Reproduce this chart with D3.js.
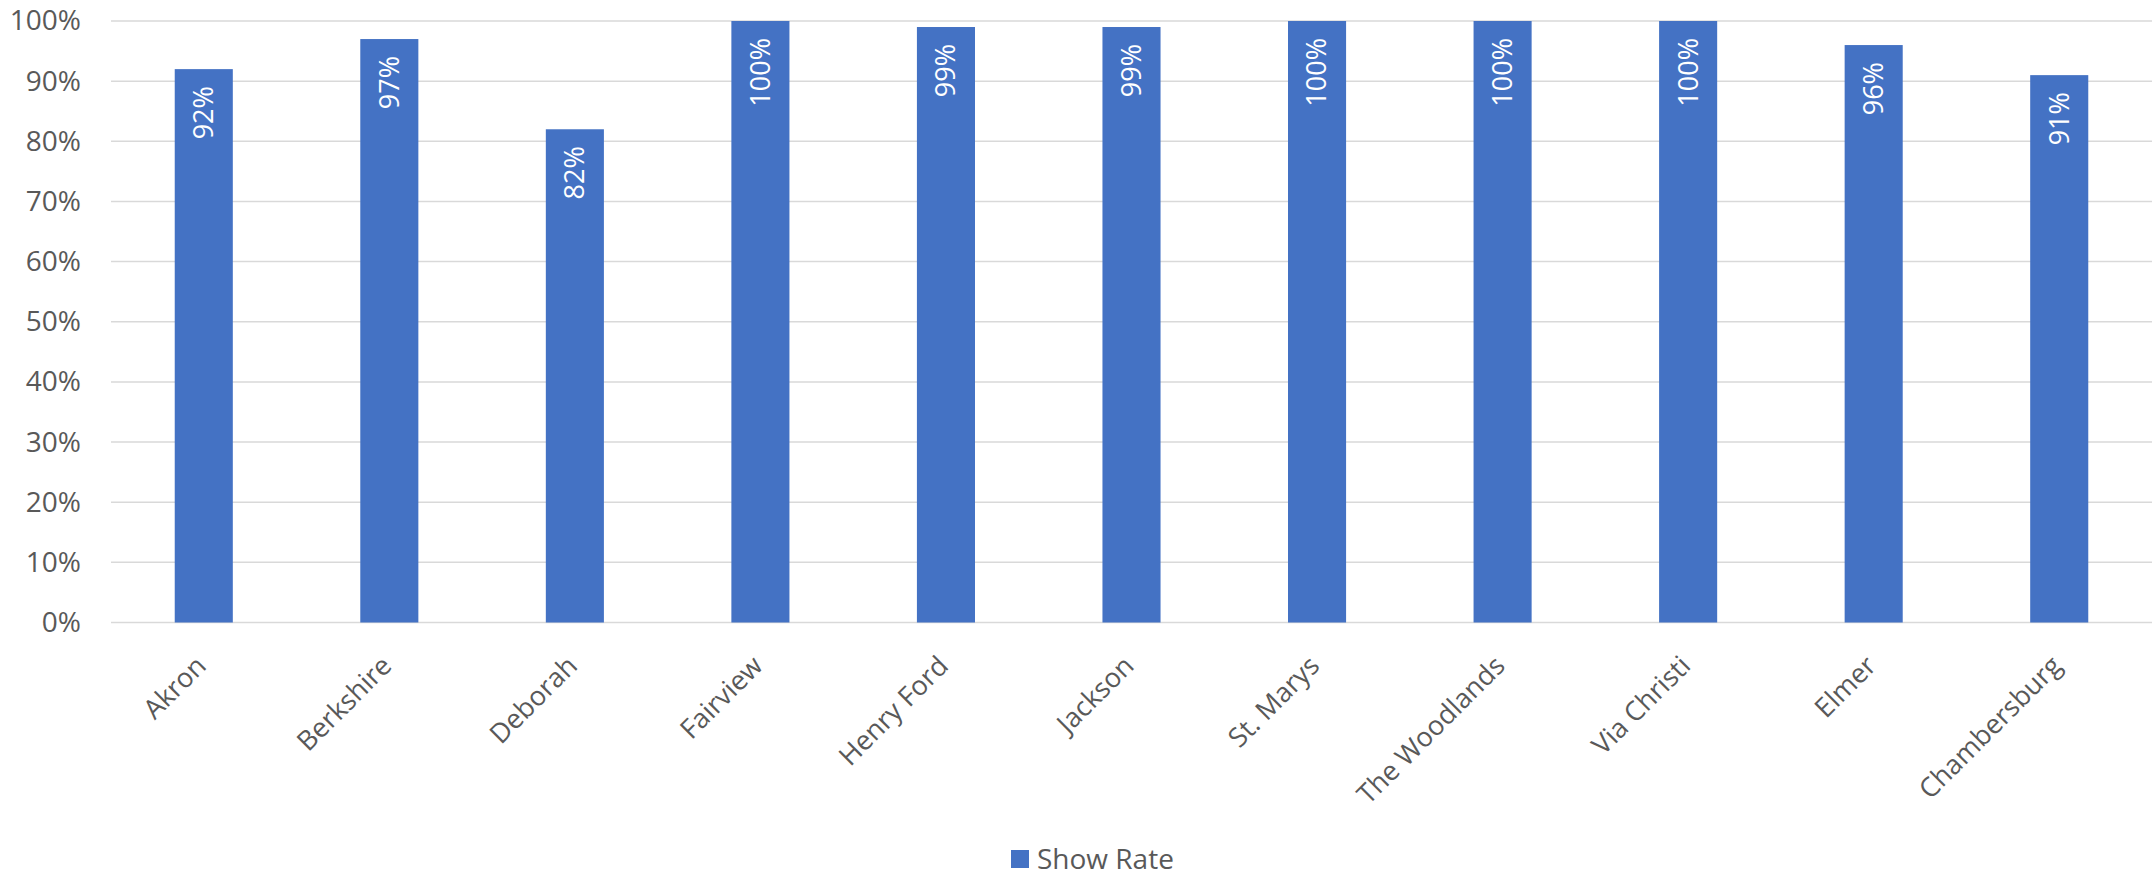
<!DOCTYPE html>
<html>
<head>
<meta charset="utf-8">
<script src="https://cdn.jsdelivr.net/npm/d3@7"></script>
<style>
  html, body { margin: 0; padding: 0; background: #fff; }
  svg { display: block; font-family: "Open Sans", "Noto Sans", sans-serif; }
</style>
</head>
<body>
<svg id="chart" width="2153" height="879"></svg>
<script>
const categories = ["Akron", "Berkshire", "Deborah", "Fairview", "Henry Ford", "Jackson", "St. Marys", "The Woodlands", "Via Christi", "Elmer", "Chambersburg"];
const showRate = [0.92, 0.97, 0.82, 1.00, 0.99, 0.99, 1.00, 1.00, 1.00, 0.96, 0.91];
const yTicks = [0, 0.1, 0.2, 0.3, 0.4, 0.5, 0.6, 0.7, 0.8, 0.9, 1.0];
const seriesName = "Show Rate";

const svg = d3.select("#chart");
const margin = { left: 111, right: 1, top: 21, bottom: 256.5 };
const W = 2153, H = 879;
const x = d3.scaleBand().domain(categories).range([margin.left, W - margin.right]).paddingInner(0.687).paddingOuter(0.3435);
const y = d3.scaleLinear().domain([0, 1]).range([H - margin.bottom, margin.top]);
const fmt = d3.format(".0%");
const grey = "#595959";
const blue = "#4472c4";

// gridlines
svg.append("g").selectAll("line").data(yTicks).join("line")
  .attr("x1", margin.left).attr("x2", W - margin.right)
  .attr("y1", d => y(d)).attr("y2", d => y(d))
  .attr("stroke", "#d9d9d9").attr("stroke-width", 1.5);

// y axis labels
const yAxis = d3.axisLeft(y).tickValues(yTicks).tickFormat(fmt).tickSize(0).tickPadding(30);
const gy = svg.append("g").attr("transform", `translate(${margin.left},0)`).call(yAxis);
gy.select(".domain").remove();
gy.selectAll("text").attr("fill", grey).style("font-size", "28px").style("font-family", "'Open Sans', sans-serif");

// bars
svg.append("g").selectAll("rect").data(categories).join("rect")
  .attr("x", d => x(d)).attr("width", x.bandwidth())
  .attr("y", (d, i) => y(showRate[i]))
  .attr("height", (d, i) => y(0) - y(showRate[i]))
  .attr("fill", blue);

// data labels
svg.append("g").selectAll("text").data(categories).join("text")
  .attr("transform", (d, i) => `translate(${x(d) + x.bandwidth() / 2},${y(showRate[i]) + 17}) rotate(-90)`)
  .attr("text-anchor", "end").attr("dy", "0.35em")
  .attr("fill", "#fff").style("font-size", "27px")
  .text((d, i) => fmt(showRate[i]));

// x axis labels
const xAxis = d3.axisBottom(x).tickSize(0).tickPadding(0);
const gx = svg.append("g").attr("transform", `translate(0,${y(0)})`).call(xAxis);
gx.select(".domain").remove();
gx.selectAll("text")
  .attr("fill", grey).style("font-size", "27px").style("font-family", "'Open Sans', sans-serif")
  .attr("text-anchor", "end").attr("dy", null).attr("y", null)
  .attr("transform", "translate(4,45) rotate(-45)");

// legend
const lg = svg.append("g").attr("transform", "translate(1011,850)");
lg.append("rect").attr("width", 18).attr("height", 18).attr("fill", blue);
lg.append("text").attr("x", 26).attr("y", 9).attr("dy", "0.35em")
  .attr("fill", grey).style("font-size", "28px").text(seriesName);
</script>
</body>
</html>
